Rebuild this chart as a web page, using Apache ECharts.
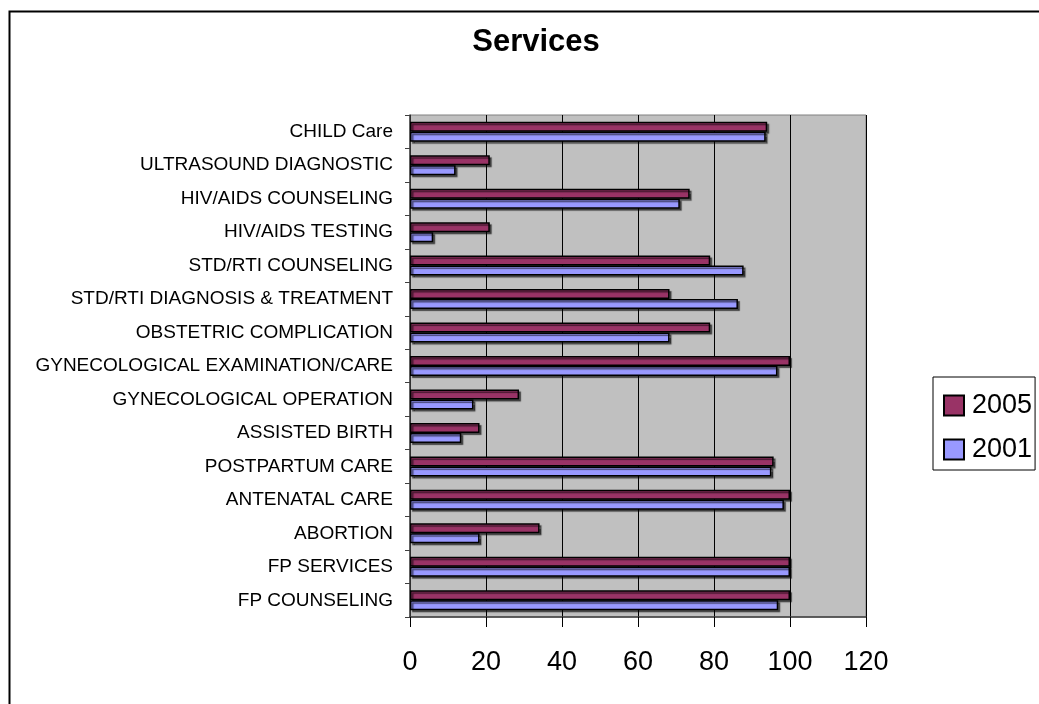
<!DOCTYPE html>
<html>
<head>
<meta charset="utf-8">
<script src="https://cdn.jsdelivr.net/npm/echarts@6/dist/echarts.min.js"></script>
<style>
html,body{margin:0;padding:0;background:#fff;}
#chart{width:1039px;height:704px;}
</style>
</head>
<body>
<div id="chart"></div>
<script>
// Categories listed bottom to top
var categories = [
  'FP COUNSELING',
  'FP SERVICES',
  'ABORTION',
  'ANTENATAL CARE',
  'POSTPARTUM CARE',
  'ASSISTED BIRTH',
  'GYNECOLOGICAL OPERATION',
  'GYNECOLOGICAL EXAMINATION/CARE',
  'OBSTETRIC COMPLICATION',
  'STD/RTI DIAGNOSIS & TREATMENT',
  'STD/RTI COUNSELING',
  'HIV/AIDS TESTING',
  'HIV/AIDS COUNSELING',
  'ULTRASOUND DIAGNOSTIC',
  'CHILD Care'
];
var values2005 = [100, 100, 34.1, 100, 95.7, 18.3, 28.7, 100, 79, 68.3, 79, 21, 73.6, 21, 94];
var values2001 = [96.9, 100, 18.3, 98.4, 95.1, 13.5, 16.7, 96.7, 68.3, 86.3, 87.8, 6.1, 71, 12, 93.6];
var xTicks = [0, 20, 40, 60, 80, 100, 120];
var seriesNames = ['2005', '2001'];

var FONT = '"Liberation Sans", Arial, sans-serif';
var chart = echarts.init(document.getElementById('chart'), null, {renderer: 'canvas'});

var barStyle = function (color) {
  return {
    color: color,
    borderColor: '#000',
    borderWidth: 1.5,
    shadowColor: 'rgba(0,0,0,0.55)',
    shadowOffsetX: 2,
    shadowOffsetY: 2,
    shadowBlur: 1
  };
};

chart.setOption({
  animation: false,
  backgroundColor: '#fff',
  textStyle: {fontFamily: FONT},
  title: {
    text: 'Services',
    left: 531,
    top: 22,
    textAlign: 'center',
    textStyle: {fontFamily: FONT, fontSize: 31, fontWeight: 'bold', color: '#000'}
  },
  graphic: [{
    type: 'rect',
    shape: {x: 9.5, y: 11.5, width: 1200, height: 900},
    style: {fill: 'none', stroke: '#000', lineWidth: 2},
    silent: true,
    z: 100
  }],
  legend: {
    data: seriesNames,
    orient: 'vertical',
    left: 933,
    top: 377,
    padding: [15, 3, 7, 10],
    itemWidth: 20,
    itemHeight: 20,
    itemGap: 17,
    borderColor: '#000',
    borderWidth: 1,
    icon: 'rect',
    textStyle: {fontFamily: FONT, fontSize: 27, color: '#000', lineHeight: 20, padding: [0, 0, 0, 3]}
  },
  grid: {
    left: 410,
    right: 173,
    top: 115,
    bottom: 87,
    show: true,
    backgroundColor: '#c0c0c0',
    borderColor: '#808080',
    borderWidth: 1
  },
  xAxis: {
    type: 'value',
    min: xTicks[0],
    max: xTicks[xTicks.length - 1],
    interval: xTicks[1] - xTicks[0],
    axisLine: {show: true, lineStyle: {color: '#404040', width: 1.5}},
    axisTick: {show: true, length: 10, lineStyle: {color: '#000'}},
    splitLine: {show: true, lineStyle: {color: '#000', width: 1}},
    axisLabel: {fontFamily: FONT, fontSize: 27, color: '#000', margin: 32}
  },
  yAxis: {
    type: 'category',
    data: categories,
    axisLine: {show: true, lineStyle: {color: '#404040', width: 1.5}},
    axisTick: {show: true, length: 5, lineStyle: {color: '#404040'}},
    splitLine: {show: false},
    axisLabel: {fontFamily: FONT, fontSize: 19, color: '#000', margin: 17}
  },
  series: [
    {
      name: '2005',
      type: 'bar',
      data: values2005,
      barWidth: 10,
      barGap: '0%',
      itemStyle: barStyle('#993366')
    },
    {
      name: '2001',
      type: 'bar',
      data: values2001,
      barWidth: 10,
      barGap: '0%',
      itemStyle: barStyle('#9999ff')
    }
  ]
});
</script>
</body>
</html>
